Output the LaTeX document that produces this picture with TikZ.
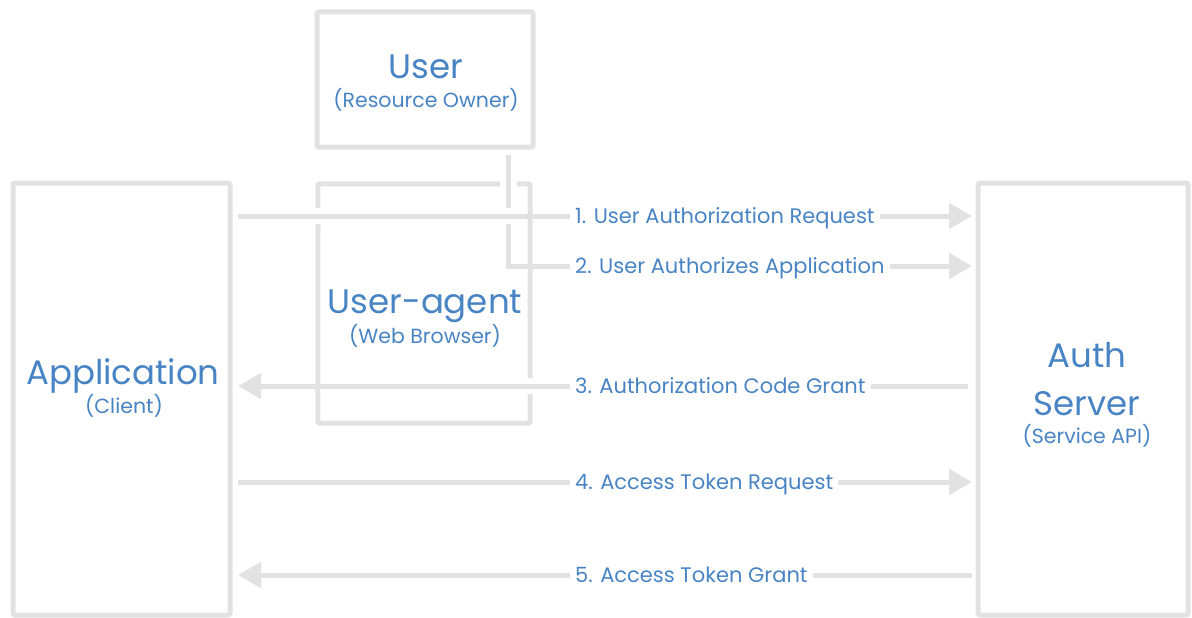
\documentclass[tikz,border=0pt]{standalone}
\usepackage{fontspec}
\setmainfont{Poppins}
\usetikzlibrary{arrows.meta}
\definecolor{boxgray}{HTML}{E2E2E2}
\definecolor{txtblue}{HTML}{4884C4}
\begin{document}
\begin{tikzpicture}[x=1pt,y=-1pt,
  box/.style={draw=boxgray, line width=5pt, rounded corners=2pt, inner sep=0pt},
  edge/.style={draw=boxgray, line width=5pt, rounded corners=2pt},
  flow/.style={draw=boxgray, line width=5pt},
  tip/.style={-{Triangle[length=23pt,width=25pt]}},
  title/.style={text=txtblue, font=\fontsize{34}{34}\selectfont, anchor=base, inner sep=0pt},
  sub/.style={text=txtblue, font=\fontsize{20.5}{20.5}\selectfont, anchor=base, inner sep=0pt},
  lbl/.style={text=txtblue, font=\fontsize{21}{21}\selectfont, anchor=base west, inner xsep=5pt, inner ysep=0pt}]
\useasboundingbox (0,0) rectangle (1192,618);
% boxes
\node[box, minimum width=216pt, minimum height=135pt] (user) at (425,79.5) {};
\node[box, minimum width=217pt, minimum height=432pt] (app) at (121.5,399) {};
\node[box, minimum width=210pt, minimum height=432pt] (auth) at (1083,399) {};
\node[inner sep=0pt, minimum width=212pt, minimum height=239pt] (ua) at (424,303.5) {};
% user-agent box with gaps
\draw[edge] (500,184) -- (ua.north west) -- (318,208);
\draw[edge] (318,224) -- (ua.south west) -- (ua.south east) -- (530,394);
\draw[edge] (530,378) -- (ua.north east) -- (517,184);
% texts
\node[title] (tuser) at (426,79) {User};
\node[sub] (suser) at (426,107) {(Resource Owner)};
\node[title] (tua) at (425,313) {User-agent};
\node[sub] (sua) at (425,343) {(Web Browser)};
\node[title] (tapp) at (123,384) {Application};
\node[sub] (sapp) at (124,413) {(Client)};
\node[title] (tauth) at (1087,367) {Auth};
\node[title] (tserv) at (1087,415) {Server};
\node[sub] (sauth) at (1087,443) {(Service API)};
% labels
\node[lbl] (t1) at (570,223.5) {1. User Authorization Request};
\node[lbl] (t2) at (570,273.5) {2. User Authorizes Application};
\node[lbl] (t3) at (570,393.5) {3. Authorization Code Grant};
\node[lbl] (t4) at (570,489.5) {4. Access Token Request};
\node[lbl] (t5) at (570,582.5) {5. Access Token Grant};
% coordinates
\coordinate (s1) at (238,216);
\coordinate (e1) at (972,216);
\coordinate (v0) at (508,155);
\coordinate (v1) at (508,208);
\coordinate (v2) at (508,224);
\coordinate (v3) at (508,266);
\coordinate (e2) at (972,266);
\coordinate (s3) at (968,386);
\coordinate (e3) at (238,386);
\coordinate (s4) at (238,482);
\coordinate (e4) at (972,482);
\coordinate (s5) at (972,575);
\coordinate (e5) at (238,575);
% connectors
\draw[flow] (s1) -- (t1.west |- s1);
\draw[flow, tip] (t1.east |- s1) -- (e1);
\draw[flow] (v0) -- (v1);
\draw[flow] (v2) -- (v3) -- (t2.west |- v3);
\draw[flow, tip] (t2.east |- v3) -- (e2);
\draw[flow] (s3) -- (t3.east |- s3);
\draw[flow, tip] (t3.west |- s3) -- (e3);
\draw[flow] (s4) -- (t4.west |- s4);
\draw[flow, tip] (t4.east |- s4) -- (e4);
\draw[flow] (s5) -- (t5.east |- s5);
\draw[flow, tip] (t5.west |- s5) -- (e5);
\end{tikzpicture}
\end{document}
